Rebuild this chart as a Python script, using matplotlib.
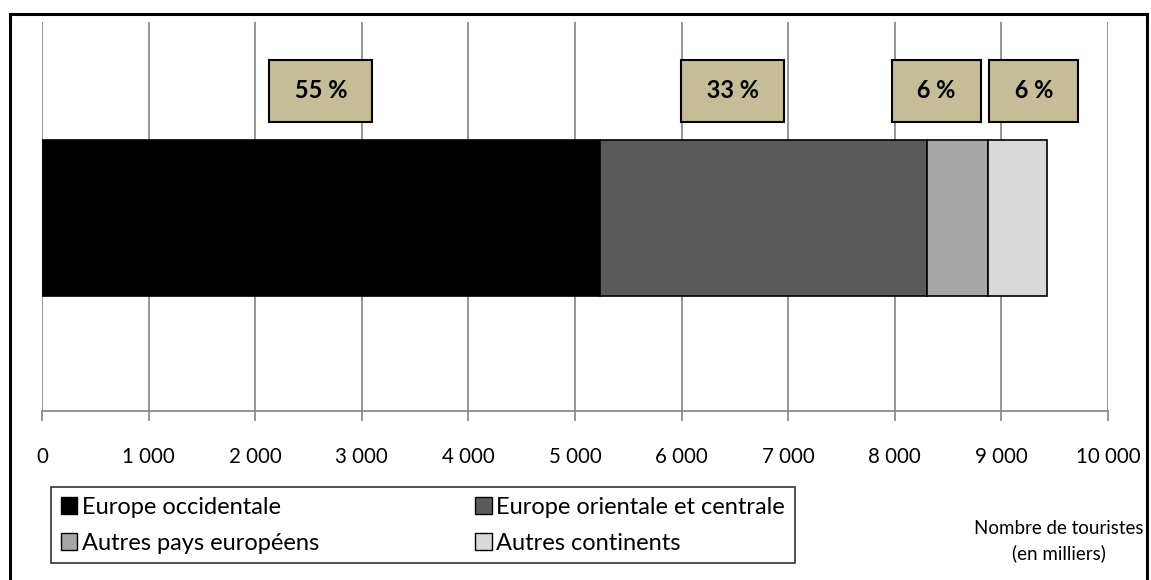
import matplotlib
matplotlib.use("Agg")
import matplotlib.pyplot as plt
from matplotlib.patches import Rectangle, Patch
from matplotlib.ticker import FuncFormatter

plt.rcParams['font.family'] = ['Lato', 'DejaVu Sans']

categories = ['Europe occidentale', 'Europe orientale et centrale',
              'Autres pays européens', 'Autres continents']
values = [5230, 3070, 570, 555]
pct_labels = ['55 %', '33 %', '6 %', '6 %']
colors = ['#000000', '#5a5a5a', '#a6a6a6', '#d9d9d9']
# horizontal nudge of each label box (points), as in the original
label_dx = [0, -22, -15, 12]

fig = plt.figure(figsize=(11.51, 5.8), dpi=100)
ax = fig.add_axes([42 / 1151, 1 - 411 / 580, (1108 - 42) / 1151, (411 - 22) / 580])

left = 0
for cat, v, c in zip(categories, values, colors):
    ax.barh(0.496, v, left=left, height=0.40, color=c, edgecolor='#000000',
            linewidth=1.2, zorder=3)
    left += v

left = 0
for v, lab, dx in zip(values, pct_labels, label_dx):
    ax.annotate(' ' + lab + ' ', xy=(left + v / 2, 0.823), xytext=(dx, 0),
                textcoords='offset points', ha='center', va='center',
                fontsize=17, fontweight='bold', zorder=5,
                bbox=dict(boxstyle='square,pad=0.82', fc='#c4bd97',
                          ec='#000000', lw=1.5))
    left += v

ax.set_xlim(0, 10000)
ax.set_ylim(0, 1)
ax.set_xticks(range(0, 10001, 1000))
ax.xaxis.set_major_formatter(FuncFormatter(lambda x, p: f'{int(x):,}'.replace(',', ' ')))
ax.grid(axis='x', color='#8c8c8c', linewidth=1.3, zorder=0)
ax.set_yticks([])
for s in ['top', 'right', 'left']:
    ax.spines[s].set_visible(False)
ax.spines['bottom'].set_color('#8c8c8c')
ax.spines['bottom'].set_linewidth(1.3)
ax.tick_params(axis='x', length=7, width=1.3, color='#8c8c8c',
               labelsize=14.8, pad=19)

fig.text(1059 / 1151, 1 - 541 / 580, 'Nombre de touristes\n(en milliers)',
         ha='center', va='center', fontsize=13.5, linespacing=1.45)

# row-wise order like the original legend
order = [0, 2, 1, 3]
handles = [Patch(facecolor=colors[i], edgecolor='#000000', linewidth=1) for i in order]
labels = [categories[i] for i in order]
leg = fig.legend(handles, labels, loc='upper left',
                 bbox_to_anchor=(51 / 1151, 1 - 487 / 580), ncol=2,
                 frameon=True, fancybox=False, fontsize=17,
                 handlelength=0.7, handleheight=0.7, handletextpad=0.2,
                 columnspacing=6.6, labelspacing=0.62, borderpad=0.42,
                 borderaxespad=0)
leg.get_frame().set_edgecolor('#000000')
leg.get_frame().set_linewidth(1.2)

fig.patches.append(Rectangle((10 / 1151, -0.05), (1147 - 10) / 1151, 1.05 - 14 / 580,
                             transform=fig.transFigure, fill=False,
                             edgecolor='#000000', linewidth=2.2))

fig.savefig('out.png', dpi=100)
